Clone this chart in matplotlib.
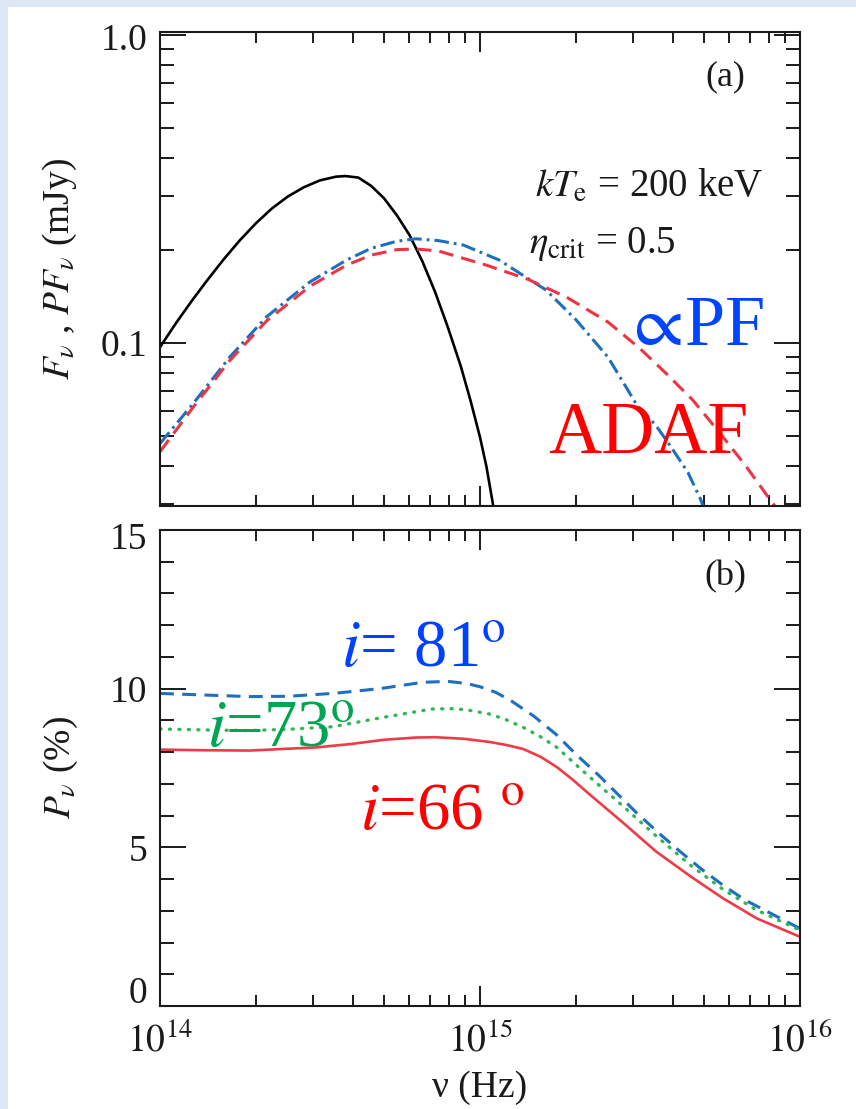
import numpy as np
import matplotlib
matplotlib.use('Agg')
import matplotlib.pyplot as plt
from matplotlib.ticker import FixedLocator, FixedFormatter, NullFormatter, MultipleLocator
from matplotlib.patches import Rectangle

# ---------------- data ----------------
# Panel (a): flux density (mJy) vs log10(nu / Hz)
black_lognu = [14.00, 14.05, 14.10, 14.15, 14.20, 14.25, 14.30, 14.35, 14.40, 14.45,
               14.50, 14.55, 14.58, 14.62, 14.66, 14.70, 14.74, 14.78, 14.82, 14.86,
               14.90, 14.94, 14.97, 15.00, 15.02, 15.04, 15.045]
black_flux = [0.0970, 0.1161, 0.1374, 0.1611, 0.1875, 0.2158, 0.2449, 0.2735, 0.2992, 0.3206,
              0.3373, 0.3467, 0.3483, 0.3443, 0.3236, 0.2951, 0.2600, 0.2239, 0.1841, 0.1462,
              0.1122, 0.0841, 0.0653, 0.0495, 0.0398, 0.0302, 0.0275]

pf_lognu = [14.00, 14.104, 14.219, 14.333, 14.469, 14.583, 14.66, 14.74, 14.80, 14.87,
            14.948, 15.06, 15.13, 15.205, 15.30, 15.40, 15.49, 15.55, 15.597, 15.65, 15.69,
            15.70]
pf_flux = [0.0472, 0.0637, 0.0903, 0.1217, 0.158, 0.186, 0.203, 0.214, 0.218, 0.215,
           0.208, 0.186, 0.167, 0.149, 0.119, 0.090, 0.063, 0.054, 0.046, 0.038, 0.0310,
           0.0290]

adaf_lognu = [14.00, 14.104, 14.219, 14.333, 14.469, 14.583, 14.66, 14.74, 14.80, 14.87,
              15.02, 15.15, 15.27, 15.40, 15.50, 15.58, 15.665, 15.75, 15.83, 15.90, 15.93]
adaf_flux = [0.0444, 0.062, 0.088, 0.118, 0.153, 0.179, 0.193, 0.201, 0.202, 0.199,
             0.179, 0.161, 0.141, 0.117, 0.096, 0.080, 0.0653, 0.051, 0.040, 0.0317, 0.0288]

# Panel (b): polarization degree (%) vs log10(nu / Hz)
p81_lognu = [14.00, 14.14, 14.28, 14.40, 14.54, 14.62, 14.70, 14.82, 14.90, 14.96, 15.00,
             15.05, 15.10, 15.17, 15.24, 15.30, 15.37, 15.43, 15.49, 15.56, 15.625, 15.69,
             15.76, 15.83, 15.92, 16.00]
p81 = [9.85, 9.80, 9.75, 9.76, 9.85, 9.93, 10.02, 10.20, 10.23, 10.16, 10.06,
       9.88, 9.60, 9.12, 8.54, 7.93, 7.28, 6.68, 6.08, 5.44, 4.87, 4.33,
       3.80, 3.33, 2.86, 2.44]

p73_lognu = [14.00, 14.14, 14.28, 14.40, 14.54, 14.70, 14.85, 14.92, 14.96, 15.03, 15.08,
             15.135, 15.19, 15.24, 15.34, 15.45, 15.55, 15.66, 15.76, 15.865, 16.00]
p73 = [8.73, 8.70, 8.68, 8.72, 8.80, 9.10, 9.36, 9.37, 9.33, 9.20, 9.03,
       8.78, 8.48, 8.15, 7.24, 6.27, 5.36, 4.42, 3.67, 3.02, 2.39]

p66_lognu = [14.00, 14.14, 14.28, 14.49, 14.60, 14.70, 14.80, 14.86, 14.95, 15.03, 15.08,
             15.135, 15.19, 15.24, 15.29, 15.34, 15.45, 15.55, 15.66, 15.76, 15.865, 16.00]
p66 = [8.08, 8.06, 8.05, 8.15, 8.26, 8.39, 8.46, 8.47, 8.42, 8.32, 8.23,
       8.10, 7.85, 7.53, 7.13, 6.69, 5.75, 4.87, 4.07, 3.39, 2.76, 2.18]

x_ticks = [1e14, 1e15, 1e16]
x_ticklabels = [r'$10^{14}$', r'$10^{15}$', r'$10^{16}$']
ya_ticks = [0.1, 1.0]
ya_ticklabels = ['0.1', '']          # '1.0' is drawn separately (shifted inside)
ya_minor = [0.03, 0.04, 0.05, 0.06, 0.07, 0.08, 0.09, 0.2, 0.3, 0.4, 0.5, 0.6, 0.7, 0.8, 0.9]
yb_ticks = [0, 5, 10, 15]
yb_ticklabels = ['', '5', '10', '']  # '0' and '15' drawn separately

# ---------------- style ----------------
plt.rcParams['font.family'] = ['Liberation Serif', 'DejaVu Serif']
plt.rcParams['mathtext.fontset'] = 'stix'
plt.rcParams['lines.scale_dashes'] = False

W, H = 856, 1109
fig = plt.figure(figsize=(W / 100, H / 100), dpi=100)
fig.patch.set_facecolor('#dce8f5')
fig.add_artist(Rectangle((8 / W, 0), 1, 1 - 7 / H, transform=fig.transFigure,
                         facecolor='white', edgecolor='none', zorder=-10))

L, R = 160, 800
axa = fig.add_axes([L / W, (H - 506) / H, (R - L) / W, (506 - 32) / H])
axb = fig.add_axes([L / W, (H - 1006) / H, (R - L) / W, (1006 - 530) / H])

TICKFS = 27
ink = '#1a1a1a'


def nu(lg):
    return 10.0 ** np.asarray(lg)


# ---- panel (a)
axa.plot(nu(black_lognu), black_flux, color='black', lw=1.9, solid_capstyle='round')
axa.plot(nu(pf_lognu), pf_flux, color='#1f6fbf', lw=2.2, dashes=(10.5, 3.6, 2.0, 3.6))
axa.plot(nu(adaf_lognu), adaf_flux, color='#ee3344', lw=2.2, dashes=(10.5, 5.8))

# ---- panel (b)
axb.plot(nu(p81_lognu), p81, color='#1f6fbf', lw=2.2, dashes=(10, 6))
axb.plot(nu(p73_lognu), p73, color='#33b555', lw=2.4, dashes=(0.8, 6.0),
         dash_capstyle='round')
axb.plot(nu(p66_lognu), p66, color='#f03a47', lw=1.9)

for ax in (axa, axb):
    ax.set_xscale('log')
    ax.set_xlim(1e14, 1e16)
    ax.xaxis.set_major_locator(FixedLocator(x_ticks))
    ax.xaxis.set_minor_locator(FixedLocator(
        [m * 10.0 ** e for e in (14, 15) for m in range(2, 10)]))
    ax.xaxis.set_minor_formatter(NullFormatter())
    ax.tick_params(which='both', direction='in', top=True, right=True,
                   width=1.4, color=ink, labelsize=TICKFS, labelcolor=ink)
    ax.tick_params(axis='x', which='major', length=14.5, pad=12)
    ax.tick_params(axis='x', which='minor', length=8)
    ax.tick_params(axis='y', which='major', length=19, pad=9)
    ax.tick_params(axis='y', which='minor', length=10)
    for s in ax.spines.values():
        s.set_linewidth(1.5)
        s.set_color(ink)

axa.set_yscale('log')
axa.set_ylim(0.0296, 1.022)
axa.yaxis.set_major_locator(FixedLocator(ya_ticks))
axa.yaxis.set_major_formatter(FixedFormatter(ya_ticklabels))
axa.yaxis.set_minor_locator(FixedLocator(ya_minor))
axa.yaxis.set_minor_formatter(NullFormatter())
axa.tick_params(axis='x', labelbottom=False)

axb.set_ylim(0, 15)
axb.yaxis.set_major_locator(FixedLocator(yb_ticks))
axb.yaxis.set_major_formatter(FixedFormatter(yb_ticklabels))
axb.yaxis.set_minor_locator(MultipleLocator(1))
axb.xaxis.set_major_formatter(FixedFormatter(x_ticklabels))

# end tick labels, nudged inside the axis range as in the original
lab_x = -0.0195
axa.text(lab_x, 0.981, '1.0', transform=axa.transAxes, fontsize=TICKFS, color=ink,
         ha='right', va='center')
axb.text(lab_x, 0.979, '15', transform=axb.transAxes, fontsize=TICKFS, color=ink,
         ha='right', va='center')
axb.text(lab_x, 0.026, '0', transform=axb.transAxes, fontsize=TICKFS, color=ink,
         ha='right', va='center')

# axis labels
axa.set_ylabel(r'$F_{\nu}$ , $PF_{\nu}$ (mJy)', fontsize=27, color=ink)
axa.yaxis.set_label_coords(-0.127, 0.5)
axb.set_ylabel(r'$P_{\nu}$ (%)', fontsize=27, color=ink)
axb.yaxis.set_label_coords(-0.125, 0.5)
axb.set_xlabel('ν (Hz)', fontsize=27, color=ink)
axb.xaxis.set_label_coords(0.5, -0.135)

# annotations panel (a)
axa.text(0.883, 0.905, '(a)', transform=axa.transAxes, fontsize=26, color=ink,
         ha='center', va='center')
axa.text(0.586, 0.652, r'$kT_{\rm e}$ = 200 keV', transform=axa.transAxes,
         fontsize=28, color=ink, ha='left', va='baseline')
axa.text(0.577, 0.534, r'$\eta_{\rm crit}$ = 0.5', transform=axa.transAxes,
         fontsize=28, color=ink, ha='left', va='baseline')
axa.text(0.724, 0.340, r'${\propto}\!$PF', transform=axa.transAxes, fontsize=52,
         color='#0044ff', ha='left', va='baseline')
axa.text(0.606, 0.112, 'ADAF', transform=axa.transAxes, fontsize=53,
         color='#ff0000', ha='left', va='baseline')

# annotations panel (b)
axb.text(0.883, 0.901, '(b)', transform=axb.transAxes, fontsize=26, color=ink,
         ha='center', va='center')
axb.text(0.283, 0.712, r'$i$= 81$^{\rm o}$', transform=axb.transAxes, fontsize=48,
         color='#0040ff', ha='left', va='baseline')
axb.text(0.073, 0.544, r'$i$=73$^{\rm o}$', transform=axb.transAxes, fontsize=48,
         color='#00a550', ha='left', va='baseline')
axb.text(0.3125, 0.370, r'$i$=66 $^{\rm o}$', transform=axb.transAxes, fontsize=48,
         color='#ff0000', ha='left', va='baseline')

fig.savefig('out.png', dpi=100, facecolor=fig.get_facecolor())
